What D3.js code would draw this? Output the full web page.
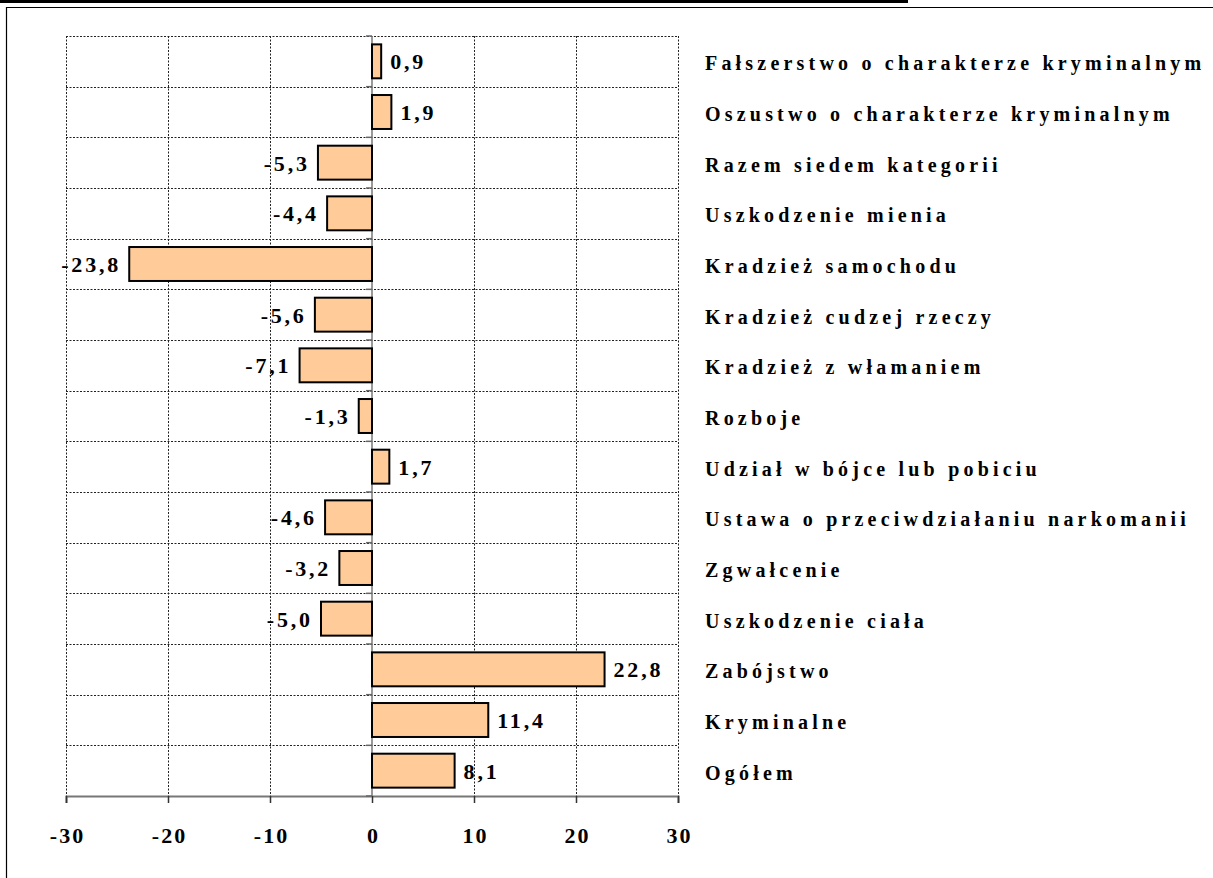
<!DOCTYPE html>
<html>
<head>
<meta charset="utf-8">
<script src="https://cdn.jsdelivr.net/npm/d3@7"></script>
<style>
  body { margin: 0; background: #fff; }
  svg { display: block; }
</style>
</head>
<body>
<svg width="1213" height="878"></svg>
<script>
const categories = [
  'Fałszerstwo o charakterze kryminalnym',
  'Oszustwo o charakterze kryminalnym',
  'Razem siedem kategorii',
  'Uszkodzenie mienia',
  'Kradzież samochodu',
  'Kradzież cudzej rzeczy',
  'Kradzież z włamaniem',
  'Rozboje',
  'Udział w bójce lub pobiciu',
  'Ustawa o przeciwdziałaniu narkomanii',
  'Zgwałcenie',
  'Uszkodzenie ciała',
  'Zabójstwo',
  'Kryminalne',
  'Ogółem'
]
const values = [0.9, 1.9, -5.3, -4.4, -23.8, -5.6, -7.1, -1.3, 1.7, -4.6, -3.2, -5.0, 22.8, 11.4, 8.1]
const xTicks = [-30, -20, -10, 0, 10, 20, 30]

const width = 1213
const height = 878
const margin = { top: 36, right: 535, bottom: 82, left: 66 }
const serif = '"Liberation Serif", "Times New Roman", serif'
const valueSpacing = 2.8

const data = categories.map((c, i) => ({ name: c, value: values[i] }))

const svg = d3.select('svg')

// frame remains of the page (cut title underline + box)
svg.append('line')
  .attr('x1', 0).attr('x2', 908).attr('y1', 1.5).attr('y2', 1.5)
  .attr('stroke', '#000').attr('stroke-width', 3)
svg.append('line')
  .attr('x1', 6).attr('x2', width).attr('y1', 7.5).attr('y2', 7.5)
  .attr('stroke', '#000').attr('stroke-width', 1.2)
svg.append('line')
  .attr('x1', 6.5).attr('x2', 6.5).attr('y1', 7).attr('y2', height)
  .attr('stroke', '#000').attr('stroke-width', 1.2)

// scales
const xScale = d3.scaleLinear()
  .domain([-30, 30])
  .range([margin.left, width - margin.right])

const yScale = d3.scaleBand()
  .domain(categories)
  .range([margin.top, height - margin.bottom])
  .paddingInner(0.33)
  .paddingOuter(0.165)

const step = yScale.step()
const gap = (step - yScale.bandwidth()) / 2
const bounds = categories.map(c => yScale(c) - gap).concat([height - margin.bottom])
const mid = d => yScale(d.name) + yScale.bandwidth() / 2

// horizontal dashed grid
svg.append('g')
  .selectAll('line')
  .data(bounds.slice(0, -1))
  .enter().append('line')
  .attr('x1', xScale(-30)).attr('x2', xScale(30))
  .attr('y1', d => Math.round(d) + 0.5).attr('y2', d => Math.round(d) + 0.5)
  .attr('stroke', '#222').attr('stroke-width', 1)
  .attr('stroke-dasharray', '2,1.5')

// vertical dashed grid
svg.append('g')
  .selectAll('line')
  .data(xTicks.filter(t => t !== 0))
  .enter().append('line')
  .attr('x1', d => Math.round(xScale(d)) + 0.5).attr('x2', d => Math.round(xScale(d)) + 0.5)
  .attr('y1', margin.top).attr('y2', height - margin.bottom)
  .attr('stroke', '#222').attr('stroke-width', 1)
  .attr('stroke-dasharray', '2,1.5')

// bottom axis
const xAxis = d3.axisBottom(xScale)
  .tickValues(xTicks)
  .tickSize(7)
  .tickPadding(24)
  .tickFormat(d => d)

const gx = svg.append('g')
  .attr('transform', `translate(0,${height - margin.bottom})`)
  .call(xAxis)
gx.select('.domain').attr('stroke', '#777').attr('stroke-width', 2)
gx.selectAll('.tick line').attr('stroke', '#333').attr('stroke-width', 1.5)
gx.selectAll('.tick text')
  .attr('fill', '#000')
  .attr('font-family', serif)
  .attr('font-weight', 'bold')
  .attr('font-size', 22)
  .attr('letter-spacing', 2)
  .attr('dx', 1)

// zero axis with category ticks
const x0 = xScale(0)
svg.append('line')
  .attr('x1', x0).attr('x2', x0)
  .attr('y1', margin.top).attr('y2', height - margin.bottom)
  .attr('stroke', '#777').attr('stroke-width', 1.5)
svg.append('g')
  .selectAll('line')
  .data(bounds)
  .enter().append('line')
  .attr('x1', x0 - 6).attr('x2', x0)
  .attr('y1', d => d).attr('y2', d => d)
  .attr('stroke', '#666').attr('stroke-width', 1.5)

// bars
svg.append('g')
  .selectAll('rect')
  .data(data)
  .enter().append('rect')
  .attr('x', d => xScale(Math.min(0, d.value)))
  .attr('y', d => yScale(d.name))
  .attr('width', d => Math.abs(xScale(d.value) - x0))
  .attr('height', yScale.bandwidth())
  .attr('fill', '#FFCC99')
  .attr('stroke', '#000')
  .attr('stroke-width', 2)

// value labels
const fmt = v => d3.format('.1f')(v).replace('.', ',').replace('−', '-')
svg.append('g')
  .selectAll('text')
  .data(data)
  .enter().append('text')
  .attr('x', d => d.value >= 0 ? xScale(d.value) + 9 : xScale(d.value) - 11 + valueSpacing)
  .attr('y', d => mid(d) + 8)
  .attr('text-anchor', d => d.value >= 0 ? 'start' : 'end')
  .attr('font-family', serif)
  .attr('font-weight', 'bold')
  .attr('font-size', 22)
  .attr('letter-spacing', valueSpacing)
  .text(d => fmt(d.value))

// category labels on the right
svg.append('g')
  .selectAll('text')
  .data(data)
  .enter().append('text')
  .attr('x', 705)
  .attr('y', d => mid(d) + 9)
  .attr('font-family', serif)
  .attr('font-weight', 'bold')
  .attr('font-size', 20)
  .attr('letter-spacing', 4.2)
  .text(d => d.name)
</script>
</body>
</html>
